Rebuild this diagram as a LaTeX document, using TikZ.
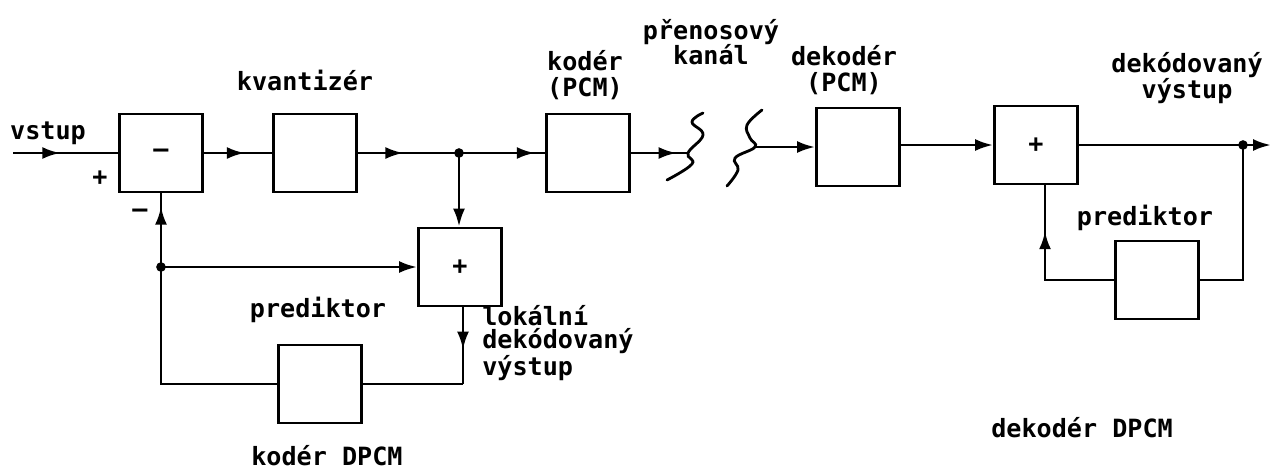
\documentclass[tikz,border=0pt]{standalone}
\usepackage{fontspec}
\newfontfamily\plotter{DejaVu Sans Mono}
\usetikzlibrary{positioning,arrows.meta,decorations.markings}

\tikzset{
  signal/.style={line width=1.6pt},
  blok/.style={draw, line width=1.6pt, minimum width=1.66cm, minimum height=1.56cm, inner sep=0pt},
  popis/.style={inner sep=0pt, align=center},
  arrowat/.style={postaction={decorate,decoration={markings,
      mark=at position #1 with {\arrow{Latex[length=3.6mm,width=2.4mm]}}}}},
  tip/.style={-{Latex[length=3.6mm,width=2.4mm]}},
  uzel/.style={circle, fill, inner sep=0pt, minimum size=5.5pt}
}

\begin{document}
\begin{tikzpicture}[x=0.02cm, y=-0.02cm,
    font=\plotter\bfseries\fontsize{14.3}{14.5}\selectfont]
  \useasboundingbox (0,0) rectangle (1271,471);

  % koder DPCM
  \node[blok] (sub) at (161,153) {–};
  \node[blok] (kv) at (315,153) {};
  \node[blok] (add) at (460,267) {+};
  \node[blok] (pr1) at (320,384) {};
  \node[blok] (kod) at (588,153) {};
  \coordinate (vin) at (13,153);
  \coordinate (j1) at (459,153);
  \coordinate (j2) at (161,267);
  \coordinate (k1) at (463,384);

  \draw[signal, arrowat=0.45] (vin) -- (sub.west);
  \draw[signal, arrowat=0.6] (sub.east) -- (kv.west);
  \draw[signal, arrowat=0.45] (kv.east) -- (j1);
  \draw[signal, arrowat=0.88] (j1) -- (kod.west);
  \draw[signal, tip] (j1) -- (j1 |- add.north);
  \draw[signal, tip] (j2) -- (add.west);
  \draw[signal, arrowat=0.55] (k1 |- add.south) -- (k1);
  \draw[signal] (k1) -- (pr1.east);
  \draw[signal] (pr1.west) -| (j2);
  \draw[signal, arrowat=0.82] (j2) -- (sub.south);
  \node[uzel] at (j1) {};
  \node[uzel] at (j2) {};

  % prenosovy kanal
  \coordinate (ch1) at (688,153);
  \coordinate (ch2) at (755,147);
  \draw[signal, arrowat=0.8] (kod.east) -- (ch1);
  \draw[signal, line cap=round] plot[smooth, tension=0.7] coordinates
    {(703,113) (692,122) (703,135) (688,153) (692,164) (667,180)};
  \draw[signal, line cap=round] plot[smooth, tension=0.7] coordinates
    {(762,110) (747,125) (750,138) (755,147) (735,158) (738,170) (727,186)};

  % dekoder DPCM
  \node[blok] (dek) at (858,147) {};
  \node[blok] (sum) at (1036,145) {+};
  \node[blok] (pr2) at (1157,280) {};
  \coordinate (vout) at (1271,145);
  \coordinate (j3) at (1243,145);

  \draw[signal, tip] (ch2) -- (dek.west |- ch2);
  \draw[signal, tip] (dek.east |- sum.west) -- (sum.west);
  \draw[signal, tip] (sum.east) -- (vout);
  \draw[signal] (j3) |- (pr2.east);
  \draw[signal, arrowat=0.72] (pr2.west) -| ([xshift=0.18cm]sum.south);
  \node[uzel] at (j3) {};

  % popisy
  \node[popis] (vstup) at (48,133) {vstup};
  \node[popis] (plus) at (100,178) {+};
  \node[popis] (minus) at (140,213) {–};
  \node[popis] (lkv) at (305,80) {kvantizér};
  \node[popis] (lkod) at (585,75) {kodér\\(PCM)};
  \node[popis] (lch) at (711,42) {přenosový\\kanál};
  \node[popis] (ldek) at (844,70) {dekodér\\(PCM)};
  \node[popis] (lout) at (1187,78) {dekódovaný\\výstup};
  \node[popis] (lpr1) at (318,310) {prediktor};
  \node[popis] (lpr2) at (1145,218) {prediktor};
  \node[popis, align=left, anchor=west, font=\plotter\bfseries\fontsize{14.3}{13}\selectfont]
    (lok) at (482,343) {lokální\\dekódovaný\\výstup};
  \node[popis] (lkdpcm) at (327,456) {kodér DPCM};
  \node[popis] (ldpcm) at (1082,428) {dekodér DPCM};
\end{tikzpicture}
\end{document}
